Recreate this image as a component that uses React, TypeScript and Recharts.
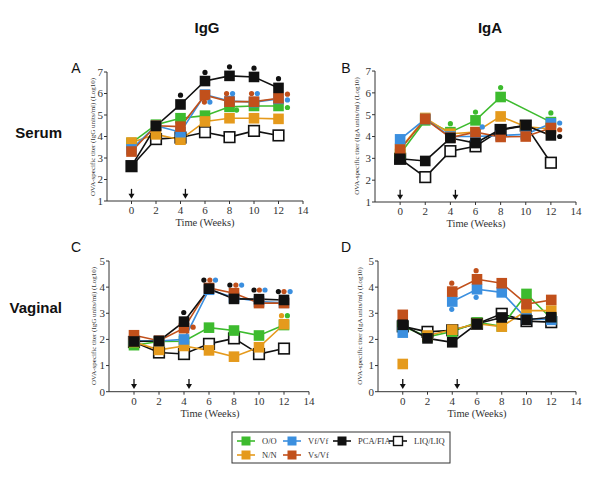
import React from "react";
import { ComposedChart, Line, Scatter, XAxis, YAxis, ReferenceLine } from "recharts";

const weeks = [0, 2, 4, 6, 8, 10, 12];
const weekTicks = [0, 2, 4, 6, 8, 10, 12, 14];
const serumTicks = [1, 2, 3, 4, 5, 6, 7];
const vaginalTicks = [0, 1, 2, 3, 4, 5];
const boostWeeks = [0, 4.4];

// A: IgG, serum
const aOO = [3.7, 4.55, 4.85, 4.97, 5.38, 5.42, 5.42];
const aVF = [3.4, 4.5, 4.2, 5.95, 5.65, 5.6, 5.75];
const aPCA = [2.62, 4.49, 5.49, 6.58, 6.82, 6.77, 6.26];
const aLIQ = [2.62, 3.88, 3.95, 4.2, 3.97, 4.26, 4.05];
const aNN = [3.72, 4.1, 3.85, 4.7, 4.85, 4.85, 4.82];
const aVS = [3.3, 4.5, 4.46, 5.92, 5.62, 5.62, 5.78];

// B: IgA, serum
const bOO = [3.2, 4.74, 4.2, 4.74, 5.81, null, 4.66];
const bVF = [3.87, 4.8, 4.0, 4.0, 4.05, 4.1, 4.6];
const bPCA = [2.98, 2.88, 3.93, 3.7, 4.33, 4.51, 4.05];
const bLIQ = [2.98, 2.14, 3.33, 3.55, 4.3, 4.5, 2.8];
const bNN = [3.44, 4.85, 4.13, 4.2, 4.92, 4.45, 4.35];
const bVS = [3.4, 4.8, 3.95, 4.2, 3.98, 4.0, 4.39];

// C: IgG, vaginal
const cOO = [1.78, 1.92, 1.93, 2.45, 2.34, 2.15, 2.55];
const cVF = [1.95, 1.94, 2.0, 3.9, 3.6, 3.45, 3.4];
const cPCA = [1.92, 1.94, 2.68, 3.94, 3.55, 3.54, 3.51];
const cLIQ = [1.9, 1.5, 1.44, 1.83, 2.04, 1.44, 1.65];
const cNN = [1.9, 1.6, 1.75, 1.58, 1.34, 1.7, 2.58];
const cVS = [2.16, 1.95, 2.43, 3.97, 3.77, 3.39, 3.39];

// D: IgA, vaginal
const dOO = [2.5, 2.1, 2.3, 2.65, 2.5, 3.74, 2.8];
const dVF = [2.26, null, 3.45, 3.92, 3.8, 2.8, 2.75];
const dPCA = [2.56, 2.04, 1.89, 2.6, 2.84, 2.75, 2.85];
const dLIQ = [2.5, 2.29, 2.35, 2.6, 2.98, 2.7, 2.66];
const dNN = [1.06, 2.15, 2.37, 2.6, 2.49, 3.1, 3.1];
const dVS = [2.94, null, 3.83, 4.3, 4.15, 3.35, 3.51];

// significance dots (week, value, group)
const aSig = [
  { week: 4, v: 5.92, s: "pca" }, { week: 6, v: 6.98, s: "pca" }, { week: 8, v: 7.24, s: "pca" },
  { week: 10, v: 7.18, s: "pca" }, { week: 12, v: 6.69, s: "pca" },
  { week: 5.95, v: 5.6, s: "vs" }, { week: 7.76, v: 6.0, s: "vs" }, { week: 9.8, v: 6.0, s: "vs" }, { week: 12.73, v: 5.97, s: "vs" },
  { week: 6.4, v: 5.6, s: "vf" }, { week: 8.25, v: 6.0, s: "vf" }, { week: 10.27, v: 6.0, s: "vf" }, { week: 12.73, v: 5.7, s: "vf" },
  { week: 8.58, v: 5.23, s: "oo" }, { week: 12.73, v: 5.35, s: "oo" },
];
const bSig = [
  { week: 4, v: 4.59, s: "oo" }, { week: 6, v: 5.12, s: "oo" }, { week: 8, v: 6.24, s: "oo" }, { week: 12, v: 5.08, s: "oo" },
  { week: 6.54, v: 4.44, s: "vf" }, { week: 12.7, v: 4.62, s: "vf" },
  { week: 12.7, v: 4.31, s: "vs" }, { week: 12.7, v: 4.0, s: "pca" },
];
const cSig = [
  { week: 3.98, v: 3.03, s: "pca" }, { week: 5.59, v: 4.27, s: "pca" }, { week: 7.67, v: 4.08, s: "pca" },
  { week: 9.6, v: 3.89, s: "pca" }, { week: 11.55, v: 3.83, s: "pca" },
  { week: 4.73, v: 2.47, s: "vs" }, { week: 6.07, v: 4.27, s: "vs" }, { week: 8.15, v: 4.08, s: "vs" },
  { week: 10.03, v: 3.89, s: "vs" }, { week: 12.0, v: 3.83, s: "vs" },
  { week: 6.52, v: 4.27, s: "vf" }, { week: 8.61, v: 4.08, s: "vf" }, { week: 10.48, v: 3.89, s: "vf" }, { week: 12.49, v: 3.83, s: "vf" },
  { week: 11.8, v: 2.91, s: "nn" }, { week: 12.27, v: 2.91, s: "oo" },
];
const dSig = [
  { week: 3.96, v: 4.15, s: "vs" }, { week: 5.93, v: 4.63, s: "vs" },
  { week: 3.96, v: 3.15, s: "vf" }, { week: 5.93, v: 3.61, s: "vf" },
];

const drawOrder = ["liq", "oo", "nn", "vf", "vs", "pca"];
const colors: Record<string, string> = {
  oo: "#3dbb2e",
  vf: "#3b8fdf",
  pca: "#111111",
  liq: "#111111",
  nn: "#e59a1c",
  vs: "#c1501b",
};
const legendItems = [
  { key: "oo", label: "O/O", row: 0, col: 0 },
  { key: "vf", label: "Vf/Vf", row: 0, col: 1 },
  { key: "pca", label: "PCA/FIA", row: 0, col: 2 },
  { key: "liq", label: "LIQ/LIQ", row: 0, col: 3 },
  { key: "nn", label: "N/N", row: 1, col: 0 },
  { key: "vs", label: "Vs/Vf", row: 1, col: 1 },
];

const serif = "'Liberation Serif', 'Times New Roman', serif";
const sans = "'Liberation Sans', Arial, sans-serif";

const squareDot = (key: string) => (props: any) => {
  const { cx, cy, index } = props;
  if (cx == null || cy == null || Number.isNaN(cy)) return <g key={`${key}-${index}`} />;
  const hollow = key === "liq";
  return (
    <rect
      key={`${key}-${index}`}
      x={cx - 5.3}
      y={cy - 5.3}
      width={10.6}
      height={10.6}
      fill={hollow ? "#fff" : colors[key]}
      stroke={hollow ? "#111" : "none"}
      strokeWidth={hollow ? 1.6 : 0}
    />
  );
};

const sigDot = (p: any) => (
  <circle cx={p.cx} cy={p.cy} r={2.6} fill={colors[p.payload.s]} />
);

const arrowShape = (p: any) => (
  <g>
    <line x1={p.cx} x2={p.cx} y1={p.cy - 10} y2={p.cy - 4} stroke="#111" strokeWidth={1.3} />
    <path d={`M${p.cx - 3},${p.cy - 5} L${p.cx + 3},${p.cy - 5} L${p.cx},${p.cy} Z`} fill="#111" />
  </g>
);

type PanelProps = {
  left: number; top: number; width: number; height: number;
  x0: number; x1: number; yTopPx: number; yBotPx: number;
  yMin: number; yMax: number; yDomMax: number; yTicks: number[];
  series: Record<string, (number | null)[]>;
  sig: { week: number; v: number; s: string }[];
  arrowTip: number;
  connect?: boolean;
  splitFirst?: string[];
};

function Panel(p: PanelProps) {
  const split = p.splitFirst || [];
  const rows = weeks.map((w, i) => {
    const row: any = { week: w };
    Object.keys(p.series).forEach((k) => {
      if (split.includes(k)) {
        row[k] = i === 0 ? null : p.series[k][i];
        row[`${k}_start`] = i === 0 ? p.series[k][0] : null;
      } else {
        row[k] = p.series[k][i];
      }
    });
    return row;
  });
  const arrows = boostWeeks.map((w) => ({ week: w, v: p.arrowTip }));
  const tick = { fontSize: 11, fontFamily: serif, fill: "#333" };
  const xAxisH = 24;

  return (
    <div style={{ position: "absolute", left: p.left, top: p.top }}>
      <ComposedChart
        width={p.width}
        height={p.height}
        data={rows}
        margin={{
          top: p.yTopPx - p.top,
          right: p.left + p.width - p.x1,
          left: 0,
          bottom: p.top + p.height - p.yBotPx - xAxisH,
        }}
      >
        <XAxis
          type="number"
          dataKey="week"
          domain={[-2, 14]}
          ticks={weekTicks}
          interval={0}
          height={xAxisH}
          tickSize={3}
          tickMargin={2}
          stroke="#333"
          tick={tick}
        />
        <YAxis
          type="number"
          domain={[p.yMin, p.yDomMax]}
          ticks={p.yTicks}
          interval={0}
          width={p.x0 - p.left}
          axisLine={false}
          tickSize={3}
          tickMargin={1}
          stroke="#333"
          tick={tick}
        />
        <ReferenceLine
          segment={[{ x: -2, y: p.yMin }, { x: -2, y: p.yMax }]}
          stroke="#333"
          strokeWidth={1}
        />
        {drawOrder
          .filter((k) => p.series[k])
          .flatMap((k) => {
            const lines = [
              <Line
                key={k}
                dataKey={k}
                type="linear"
                stroke={colors[k]}
                strokeWidth={1.6}
                dot={squareDot(k)}
                activeDot={false}
                connectNulls={!!p.connect}
                isAnimationActive={false}
              />,
            ];
            if (split.includes(k)) {
              lines.push(
                <Line
                  key={`${k}_start`}
                  dataKey={`${k}_start`}
                  type="linear"
                  stroke={colors[k]}
                  strokeWidth={1.6}
                  dot={squareDot(k)}
                  activeDot={false}
                  isAnimationActive={false}
                />
              );
            }
            return lines;
          })}
        <Scatter data={p.sig} dataKey="v" shape={sigDot} isAnimationActive={false} />
        <Scatter data={arrows} dataKey="v" shape={arrowShape} isAnimationActive={false} />
      </ComposedChart>
    </div>
  );
}

export default function App() {
  return (
    <div style={{ position: "absolute", left: 0, top: 0, width: 600, height: 478, background: "#fff" }}>
      <Panel
        left={40} top={50} width={280} height={190}
        x0={107} x1={303} yTopPx={63.4} yBotPx={201}
        yMin={1} yMax={7} yDomMax={7.4} yTicks={serumTicks}
        series={{ oo: aOO, vf: aVF, pca: aPCA, liq: aLIQ, nn: aNN, vs: aVS }}
        sig={aSig} arrowTip={1.1}
      />
      <Panel
        left={310} top={50} width={285} height={190}
        x0={375} x1={576} yTopPx={62.3} yBotPx={202}
        yMin={1} yMax={7} yDomMax={7.4} yTicks={serumTicks}
        series={{ oo: bOO, vf: bVF, pca: bPCA, liq: bLIQ, nn: bNN, vs: bVS }}
        sig={bSig} arrowTip={1.1} connect
      />
      <Panel
        left={40} top={245} width={280} height={190}
        x0={109} x1={309} yTopPx={261} yBotPx={391.7}
        yMin={0} yMax={5} yDomMax={5} yTicks={vaginalTicks}
        series={{ oo: cOO, vf: cVF, pca: cPCA, liq: cLIQ, nn: cNN, vs: cVS }}
        sig={cSig} arrowTip={0.1}
      />
      <Panel
        left={310} top={245} width={285} height={190}
        x0={378} x1={576} yTopPx={261} yBotPx={391.7}
        yMin={0} yMax={5} yDomMax={5} yTicks={vaginalTicks}
        series={{ oo: dOO, vf: dVF, pca: dPCA, liq: dLIQ, nn: dNN, vs: dVS }}
        sig={dSig} arrowTip={0.1} splitFirst={["nn"]}
      />
      <svg
        width={600}
        height={478}
        style={{ position: "absolute", left: 0, top: 0, pointerEvents: "none" }}
      >
        <g fontFamily={sans} fontWeight="bold" fontSize={15} fill="#111">
          <text x={207} y={33} textAnchor="middle">IgG</text>
          <text x={490} y={33} textAnchor="middle">IgA</text>
          <text x={62} y={138} textAnchor="end">Serum</text>
          <text x={62} y={313} textAnchor="end">Vaginal</text>
        </g>
        <g fontFamily={sans} fontSize={14} fill="#111">
          <text x={76} y={73} textAnchor="middle">A</text>
          <text x={346} y={73} textAnchor="middle">B</text>
          <text x={76} y={252} textAnchor="middle">C</text>
          <text x={346} y={252} textAnchor="middle">D</text>
        </g>
        <g fontFamily={serif} fontSize={10.5} fill="#333" textAnchor="middle">
          <text x={205} y={226}>Time (Weeks)</text>
          <text x={476} y={227}>Time (Weeks)</text>
          <text x={210} y={417}>Time (Weeks)</text>
          <text x={477} y={417}>Time (Weeks)</text>
        </g>
        <g fontFamily={serif} fontSize={7} fill="#333" textAnchor="middle">
          <text transform="translate(95,137) rotate(-90)">OVA-specific titer (IgG units/ml) (Log10)</text>
          <text transform="translate(359,136) rotate(-90)">OVA-specific titer (IgA units/ml) (Log10)</text>
          <text transform="translate(96,326) rotate(-90)">OVA-specific titer (IgG units/ml) (Log10)</text>
          <text transform="translate(362,326) rotate(-90)">OVA-specific titer (IgA units/ml) (Log10)</text>
        </g>
        <rect x={232} y={432} width={218} height={31} fill="none" stroke="#333" strokeWidth={1} />
        {legendItems.map((it) => {
          const cx = [246, 292, 342, 398][it.col];
          const cy = [441, 455][it.row];
          const hollow = it.key === "liq";
          return (
            <g key={it.key}>
              <line x1={cx - 9} x2={cx + 9} y1={cy} y2={cy} stroke={colors[it.key]} strokeWidth={1.6} />
              <rect
                x={cx - 4.5}
                y={cy - 4.5}
                width={9}
                height={9}
                fill={hollow ? "#fff" : colors[it.key]}
                stroke={hollow ? "#111" : "none"}
                strokeWidth={hollow ? 1.4 : 0}
              />
              <text x={cx + 16} y={cy + 3} fontFamily={serif} fontSize={8.5} fill="#333">
                {it.label}
              </text>
            </g>
          );
        })}
      </svg>
    </div>
  );
}
